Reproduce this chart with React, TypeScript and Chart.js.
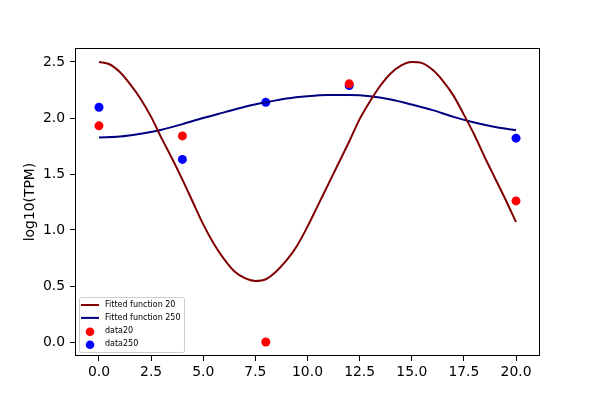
import { useEffect, useRef } from "react"
import { Chart, registerables } from "chart.js"

Chart.register(...registerables)

// fitted curve samples
const fit20X = [
  0, 0.5, 1, 1.5, 2, 2.5, 3, 3.5, 4, 4.5, 5, 5.5, 6, 6.5, 7, 7.5, 8, 8.5, 9, 9.5, 10,
  10.5, 11, 11.5, 12, 12.5, 13, 13.5, 14, 14.5, 15, 15.5, 16, 16.5, 17, 17.5, 18, 18.5, 19, 19.5, 20,
]
const fit20Y = [
  2.5, 2.48, 2.41, 2.3, 2.17, 2.01, 1.82, 1.64, 1.45, 1.25, 1.05, 0.88, 0.74, 0.63, 0.57, 0.545, 0.56,
  0.63, 0.73, 0.86, 1.03, 1.22, 1.41, 1.6, 1.79, 1.99, 2.15, 2.29, 2.4, 2.47, 2.5, 2.49, 2.43, 2.33,
  2.2, 2.03, 1.85, 1.65, 1.46, 1.27, 1.07,
]
const fit250X = [0, 1, 2, 3, 4, 5, 6, 7, 8, 9, 10, 11, 12, 13, 14, 15, 16, 17, 18, 19, 20]
const fit250Y = [
  1.827, 1.835, 1.86, 1.895, 1.945, 2.0, 2.05, 2.1, 2.14, 2.175, 2.195, 2.205, 2.205, 2.195, 2.165,
  2.12, 2.07, 2.01, 1.96, 1.92, 1.89,
]

// measured points
const sampleX = [0, 4, 8, 12, 20]
const data20 = [1.93, 1.84, 0.0, 2.305, 1.26]
const data250 = [2.096, 1.63, 2.14, 2.29, 1.82]

const xTicks = [0, 2.5, 5, 7.5, 10, 12.5, 15, 17.5, 20]
const yTicks = [0, 0.5, 1, 1.5, 2, 2.5]

const FONT = "'DejaVu Sans', sans-serif"

const legendItems = [
  { label: "Fitted function 20", color: "#800000", kind: "line" },
  { label: "Fitted function 250", color: "#000080", kind: "line" },
  { label: "data20", color: "#ff0000", kind: "dot" },
  { label: "data250", color: "#0000ff", kind: "dot" },
]

const framePlugin = {
  id: "frame",
  afterDraw(chart: Chart) {
    const { ctx, chartArea } = chart
    const { left, top, right, bottom } = chartArea
    ctx.save()
    ctx.strokeStyle = "#000"
    ctx.lineWidth = 1
    ctx.strokeRect(left + 0.5, top + 0.5, right - left - 1, bottom - top - 1)

    // legend box, lower left inside the axes
    const bx = left + 4
    const by = bottom - 59
    const bw = 105
    const bh = 55
    ctx.beginPath()
    ctx.roundRect(bx + 0.5, by + 0.5, bw, bh, 2)
    ctx.fillStyle = "rgba(255,255,255,0.8)"
    ctx.fill()
    ctx.strokeStyle = "#cccccc"
    ctx.stroke()

    ctx.font = "8px " + FONT
    ctx.textBaseline = "middle"
    ctx.textAlign = "left"
    legendItems.forEach((item, i) => {
      const y = by + 8 + i * 12.9
      if (item.kind === "line") {
        ctx.strokeStyle = item.color
        ctx.lineWidth = 2
        ctx.beginPath()
        ctx.moveTo(bx + 2, y)
        ctx.lineTo(bx + 20, y)
        ctx.stroke()
      } else {
        ctx.fillStyle = item.color
        ctx.beginPath()
        ctx.arc(bx + 11, y + 1, 4.3, 0, Math.PI * 2)
        ctx.fill()
      }
      ctx.fillStyle = "#000"
      ctx.fillText(item.label, bx + 26, y)
    })
    ctx.restore()
  },
}

export default function App() {
  const chartRef = useRef<HTMLCanvasElement>(null)
  const chartInstance = useRef<Chart | null>(null)

  useEffect(() => {
    document.body.style.margin = "0"
    if (!chartRef.current) return
    const ctx = chartRef.current.getContext("2d")
    if (!ctx) return
    if (chartInstance.current) chartInstance.current.destroy()

    chartInstance.current = new Chart(ctx, {
      type: "scatter",
      data: {
        datasets: [
          {
            label: "Fitted function 20",
            data: fit20X.map((x, i) => ({ x, y: fit20Y[i] })),
            showLine: true,
            borderColor: "#800000",
            borderWidth: 2,
            pointRadius: 0,
            cubicInterpolationMode: "monotone",
            order: 0,
          },
          {
            label: "Fitted function 250",
            data: fit250X.map((x, i) => ({ x, y: fit250Y[i] })),
            showLine: true,
            borderColor: "#000080",
            borderWidth: 2,
            pointRadius: 0,
            cubicInterpolationMode: "monotone",
            order: 0,
          },
          {
            label: "data20",
            data: sampleX.map((x, i) => ({ x, y: data20[i] })),
            backgroundColor: "#ff0000",
            borderWidth: 0,
            pointRadius: 4.5,
            order: 1,
          },
          {
            label: "data250",
            data: sampleX.map((x, i) => ({ x, y: data250[i] })),
            backgroundColor: "#0000ff",
            borderWidth: 0,
            pointRadius: 4.5,
            order: 1,
          },
        ],
      },
      options: {
        responsive: false,
        animation: false,
        layout: { padding: { left: 22, right: 60, top: 48, bottom: 0 } },
        plugins: {
          legend: { display: false },
          tooltip: { enabled: false },
        },
        scales: {
          x: {
            type: "linear",
            min: -1.15,
            max: 21.15,
            afterFit: (scale: any) => {
              scale.height = 44
            },
            afterBuildTicks: (scale: any) => {
              scale.ticks = xTicks.map((v) => ({ value: v }))
            },
            grid: { drawOnChartArea: false, drawTicks: true, tickLength: 5, color: "#000" },
            border: { display: false },
            ticks: {
              color: "#000",
              padding: 3,
              maxRotation: 0,
              font: { family: FONT, size: 13.9 },
              callback: (v: any) => Number(v).toFixed(1),
            },
          },
          y: {
            type: "linear",
            min: -0.125,
            max: 2.625,
            afterFit: (scale: any) => {
              scale.width = 53
            },
            afterBuildTicks: (scale: any) => {
              scale.ticks = yTicks.map((v) => ({ value: v }))
            },
            grid: { drawOnChartArea: false, drawTicks: true, tickLength: 5, color: "#000" },
            border: { display: false },
            title: {
              display: true,
              text: "log10(TPM)",
              color: "#000",
              padding: 0,
              font: { family: FONT, size: 13.9 },
            },
            ticks: {
              color: "#000",
              padding: 5,
              font: { family: FONT, size: 13.9 },
              callback: (v: any) => Number(v).toFixed(1),
            },
          },
        },
      },
      plugins: [framePlugin],
    })

    return () => {
      if (chartInstance.current) {
        chartInstance.current.destroy()
        chartInstance.current = null
      }
    }
  }, [])

  return (
    <div style={{ width: 600, height: 400, background: "#fff" }}>
      <canvas ref={chartRef} width={600} height={400} />
    </div>
  )
}
